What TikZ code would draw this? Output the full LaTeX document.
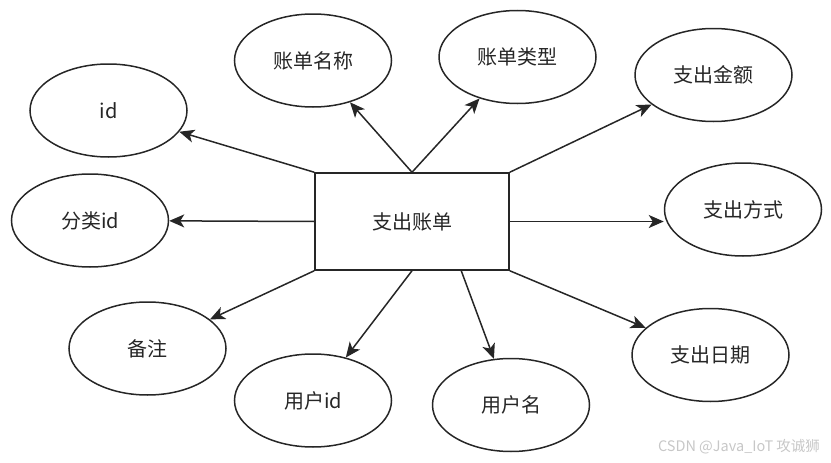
\documentclass[tikz,border=0pt]{standalone}
\usepackage{fontspec}
\setmainfont{Noto Sans CJK SC}
\usetikzlibrary{arrows.meta,shapes.geometric}

\begin{document}
\begin{tikzpicture}[
  x=1pt,y=-1pt,
  link/.style={-{Stealth[length=15pt,width=13pt,inset=4pt]}},
  attr/.style={ellipse,draw,minimum width=157pt,minimum height=93pt,inner sep=0pt,font=\fontsize{20}{22}\selectfont},
  entity/.style={rectangle,draw,minimum width=194pt,minimum height=97pt,inner sep=0pt,font=\fontsize{20}{22}\selectfont},
  every path/.style={line width=1.5pt,black!85}
]
\useasboundingbox (0,0) rectangle (831,463);
\node[entity] (bill) at (412,221.5) {支出账单};
\node[attr] (id) at (108.5,110.5) {id};
\node[attr] (name) at (313,60.5) {账单名称};
\node[attr] (type) at (517.5,57) {账单类型};
\node[attr] (amount) at (713.5,75) {支出金额};
\node[attr] (cat) at (90,220.5) {分类id};
\node[attr] (way) at (743,209.5) {支出方式};
\node[attr] (note) at (147.5,348.5) {备注};
\node[attr] (uid) at (313,400.5) {用户id};
\node[attr] (uname) at (511,405) {用户名};
\node[attr] (date) at (710.5,355) {支出日期};
\draw[link] (bill.north west)--(id);
\draw[link] (bill.north)--(name);
\draw[link] (bill.north)--(type);
\draw[link] (bill.north east)--(amount);
\draw[link] (bill.west)--(cat);
\draw[link] (bill.east)--(bill.east -| way.west);
\draw[link] (bill.south west)--(note);
\draw[link] (bill.south)--(uid);
\draw[link] (bill.-45)--(uname);
\draw[link] (bill.south east)--(date);
\node[text=black!22,font=\fontsize{14.5}{16}\selectfont,anchor=east] (mark) at (824,447) {CSDN @Java\_IoT 攻诚狮};
\end{tikzpicture}
\end{document}
